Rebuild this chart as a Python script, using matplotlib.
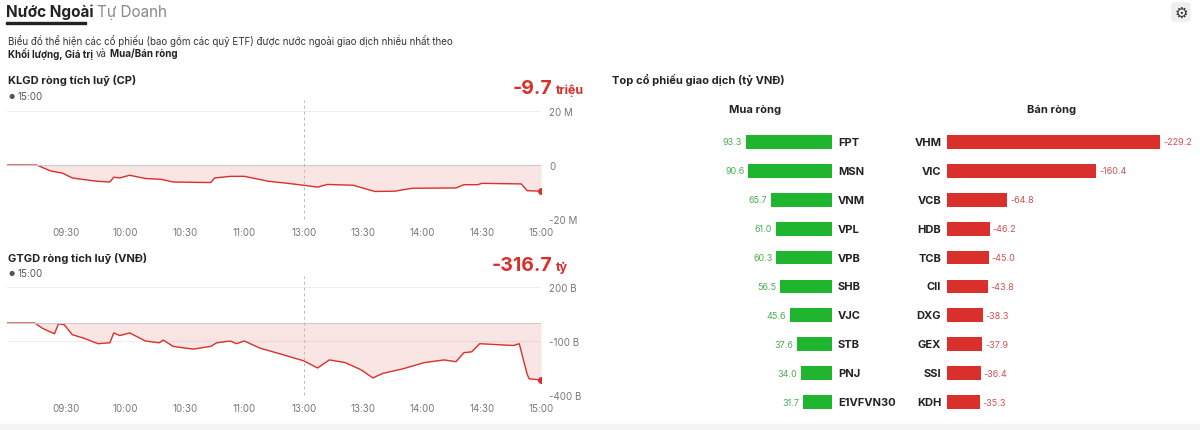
import matplotlib.pyplot as plt
from matplotlib.patches import FancyBboxPatch, Rectangle

plt.rcParams['font.family'] = ['Inter', 'DejaVu Sans']

# cumulative net volume (million shares), x = trading minutes since 09:00 (lunch removed)
vol_min = [0, 15, 22, 28, 33, 45, 52, 54, 57, 62, 70, 78, 84, 103, 105, 113, 120, 132, 142, 150,
           157, 162, 175, 186, 196, 205, 227, 231, 238, 240, 260, 263, 270]
vol_val = [0, 0, -2.2, -3, -4.8, -6, -6.3, -4.5, -4.8, -3.8, -5, -5.3, -6.3, -6.5, -4.8, -4.2, -4.2,
           -6, -6.8, -7.5, -8.2, -7.2, -7.5, -9.8, -9.7, -8.6, -8.5, -7.3, -7.3, -6.8, -7, -9.5, -9.7]

# cumulative net value (billion VND)
val_min = [0, 14, 18, 24, 26, 29, 33, 39, 46, 52, 54, 57, 62, 70, 77, 79, 84, 94, 103, 106, 113, 116,
           120, 128, 136, 150, 157, 163, 171, 179, 185, 190, 200, 211, 221, 227, 231, 235, 239, 256,
           259, 263, 264, 270]
val_val = [0, 0, -30, -60, -5, -10, -65, -85, -115, -110, -55, -70, -55, -100, -110, -95, -130, -145,
           -130, -110, -100, -115, -100, -140, -165, -210, -250, -205, -220, -260, -305, -280, -255,
           -220, -205, -215, -165, -160, -115, -125, -115, -285, -310, -316.7]

time_ticks = [30, 60, 90, 120, 150, 180, 210, 240, 270]
time_labels = ['09:30', '10:00', '10:30', '11:00', '13:00', '13:30', '14:00', '14:30', '15:00']

buy_names = ['FPT', 'MSN', 'VNM', 'VPL', 'VPB', 'SHB', 'VJC', 'STB', 'PNJ', 'E1VFVN30']
buy_vals = [93.3, 90.6, 65.7, 61.0, 60.3, 56.5, 45.6, 37.6, 34.0, 31.7]
sell_names = ['VHM', 'VIC', 'VCB', 'HDB', 'TCB', 'CII', 'DXG', 'GEX', 'SSI', 'KDH']
sell_vals = [-229.2, -160.4, -64.8, -46.2, -45.0, -43.8, -38.3, -37.9, -36.4, -35.3]

W, H = 1200, 431
RED = '#d9302c'
GREEN = '#1fb52e'
fig = plt.figure(figsize=(W / 100, H / 100), dpi=100)


def px(x, y):
    return x / W, 1 - y / H


def box(l, t, r, b):
    return [l / W, 1 - b / H, (r - l) / W, (b - t) / H]


# header
fig.text(*px(6, 12), 'Nước Ngoài', fontsize=11, fontweight='bold', va='center', color='#222')
fig.text(*px(97, 12), 'Tự Doanh', fontsize=11, va='center', color='#888')
fig.add_artist(Rectangle(px(6, 25), 80 / W, 2 / H, color='#222', transform=fig.transFigure))
fig.text(*px(8, 41), 'Biểu đồ thể hiện các cổ phiếu (bao gồm các quỹ ETF) được nước ngoài giao dịch nhiều nhất theo',
         fontsize=7, va='center', color='#333')
fig.text(*px(8, 54), 'Khối lượng, Giá trị', fontsize=7, va='center', fontweight='bold', color='#222')
fig.text(*px(96, 54), 'và', fontsize=7, va='center', color='#333')
fig.text(*px(110, 54), 'Mua/Bán ròng', fontsize=7, va='center', fontweight='bold', color='#222')
fig.add_artist(FancyBboxPatch(px(1172, 22), 18 / W, 18 / H, boxstyle='round,pad=0,rounding_size=0.004',
                              color='#eeeeee', transform=fig.transFigure))
fig.text(*px(1181, 13), '⚙', fontsize=11, ha='center', va='center', color='#333')
fig.add_artist(Rectangle((0, 0), 1, 6 / H, color='#f2f3f5', transform=fig.transFigure))


def line_panel(rect, xs, ys, lim, ticks, tlabels, title, y_title, big, unit):
    ax = fig.add_axes(rect)
    ax.plot(xs, ys, color=RED, lw=1)
    ax.fill_between(xs, ys, 0, color=RED, alpha=0.12, lw=0)
    ax.plot(xs[-1], ys[-1], 'o', color=RED, ms=4)
    ax.axhline(0, color='#cccccc', lw=0.8)
    ax.axvline(150, color='#bbbbbb', lw=0.7, ls=(0, (3, 3)), ymax=1.1, clip_on=False)
    ax.set_xlim(0, 270)
    ax.set_ylim(*lim)
    ax.set_yticks(ticks)
    ax.set_yticklabels(tlabels)
    ax.yaxis.tick_right()
    ax.set_xticks(time_ticks)
    ax.set_xticklabels(time_labels)
    ax.tick_params(length=0, labelsize=7, colors='#777', pad=6)
    for t in ticks:
        ax.axhline(t, color='#eeeeee', lw=0.8, zorder=0)
    for s in ax.spines.values():
        s.set_visible(False)
    fig.text(*px(8, y_title), title, fontsize=8, fontweight='bold', va='center', color='#222')
    fig.text(*px(8, y_title + 16), '●', fontsize=5, va='center', color='#555')
    fig.text(*px(17, y_title + 16), '15:00', fontsize=7, va='center', color='#555')
    fig.text(*px(552, y_title + 8), big, fontsize=14, fontweight='bold', ha='right', va='center', color=RED)
    fig.text(*px(556, y_title + 10), unit, fontsize=9, fontweight='bold', ha='left', va='center', color=RED)
    return ax


line_panel(box(7, 112, 541, 220), vol_min, vol_val, (-20, 20), [-20, 0, 20], ['-20 M', '0', '20 M'],
           'KLGD ròng tích luỹ (CP)', 81, '-9.7', 'triệu')
line_panel(box(7, 288, 541, 396), val_min, val_val, (-400, 200), [-400, -100, 200], ['-400 B', '-100 B', '200 B'],
           'GTGD ròng tích luỹ (VNĐ)', 258, '-316.7', 'tỷ')

# right panel: top stocks
fig.text(*px(612, 80), 'Top cổ phiếu giao dịch (tỷ VNĐ)', fontsize=8, fontweight='bold', va='center', color='#222')
fig.text(*px(755, 110), 'Mua ròng', fontsize=8, fontweight='bold', ha='center', va='center', color='#222')
fig.text(*px(1052, 110), 'Bán ròng', fontsize=8, fontweight='bold', ha='center', va='center', color='#222')

axb = fig.add_axes(box(610, 128.5, 1200, 417.5))
axb.set_xlim(0, 634)
axb.set_ylim(9.5, -0.5)
axb.axis('off')
g_end, r_start = 239, 362
rows = range(len(buy_names))
axb.barh(list(rows), buy_vals, left=[g_end - v for v in buy_vals], height=0.48, color=GREEN)
axb.barh(list(rows), [-v for v in sell_vals], left=r_start, height=0.48, color=RED)
for i in rows:
    axb.text(g_end - buy_vals[i] - 4, i, f'{buy_vals[i]:.1f}', ha='right', va='center', fontsize=6.5, color='#4caf50')
    axb.text(g_end + 6, i, buy_names[i], ha='left', va='center', fontsize=8, fontweight='bold', color='#222')
    axb.text(r_start - 6, i, sell_names[i], ha='right', va='center', fontsize=8, fontweight='bold', color='#222')
    axb.text(r_start - sell_vals[i] + 3, i, f'{sell_vals[i]:.1f}', ha='left', va='center', fontsize=6.5, color='#d05050')

fig.savefig('out.png', dpi=100)
